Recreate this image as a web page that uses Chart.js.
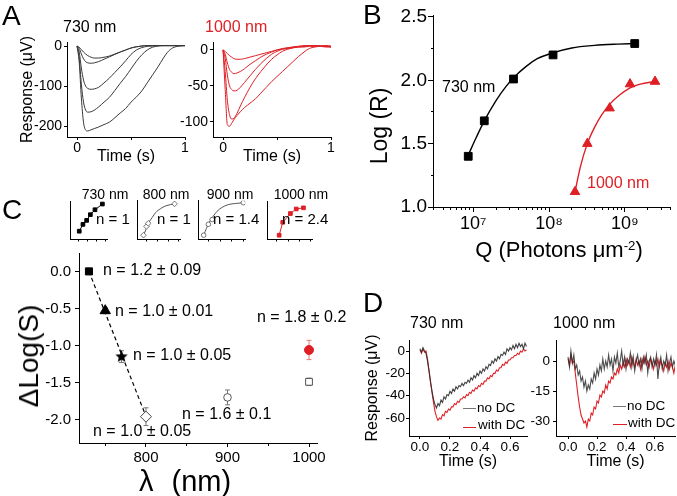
<!DOCTYPE html>
<html><head><meta charset="utf-8">
<script src="https://cdn.jsdelivr.net/npm/chart.js@4"></script>
<style>
html,body{margin:0;padding:0;width:677px;height:496px;overflow:hidden;background:#fff;font-family:'Liberation Sans',Arial,Helvetica,sans-serif;position:relative;}
canvas{position:absolute;}
.t{position:absolute;white-space:nowrap;line-height:1;color:#000;}
.ln{position:absolute;height:0;border-top:1.2px solid;}
</style></head><body>
<script>
// ================= DATA =================
// Panel A: ERG responses (µV) vs time (s)
const timeA = [0,0.02,0.04,0.06,0.08,0.1,0.13,0.16,0.2,0.25,0.3,0.35,0.4,0.45,0.5,0.55,0.6,0.65,0.7,0.75,0.8,0.85,0.9,0.95,1.0];
const a730_1 = [0,-3,-9,-15,-20,-24,-28,-30,-30,-28,-25,-20,-15,-10,-5,-2,0,1,1,1,1,1,1,1,1];
const a730_2 = [0,-6,-20,-32,-39,-42,-43,-42,-39,-33,-27,-21,-15,-10,-5,-2,0,1,1,1,1,1,1,1,1];
const a730_3 = [0,-15,-55,-85,-100,-106,-108,-107,-103,-92,-80,-66,-52,-37,-21,-10,-4,-1,0,1,1,1,1,1,1];
const a730_4 = [0,-30,-95,-140,-160,-165,-164,-160,-152,-140,-128,-111,-93,-76,-57,-38,-22,-10,-3,0,1,1,1,1,1];
const a730_5 = [0,-40,-130,-190,-210,-212,-209,-206,-202,-196,-190,-179,-167,-156,-140,-127,-112,-92,-72,-52,-30,-12,-3,0,1];
const a1000_1 = [0,-2,-5,-8,-10,-12,-13,-13,-12,-10,-8,-6,-4,-2,0,1,2,3,4,4,5,5,5,4,4];
const a1000_2 = [0,-6,-18,-27,-31,-33,-32,-30,-26,-20,-15,-10,-6,-3,0,2,3,4,5,5,6,5,5,6,5];
const a1000_3 = [0,-12,-35,-50,-55,-57,-56,-52,-45,-36,-27,-19,-12,-6,-2,1,3,4,5,6,6,6,5,6,5];
const a1000_4 = [0,-30,-70,-90,-96,-95,-88,-78,-66,-52,-40,-30,-21,-13,-7,-2,1,3,4,5,6,6,6,5,5];
const a1000_5 = [0,-55,-104,-106,-102,-97,-91,-86,-80,-74,-68,-60,-52,-44,-37,-30,-23,-16,-9,-3,2,4,5,5,4];
const ticksA_x = [0,1], labelsA_x = ['0','1'];
const ticksAL_y = [0,-100,-200], labelsAL_y = ['0','-100','-200'];
const ticksAR_y = [0,-50,-100], labelsAR_y = ['0','-50','-100'];

// Panel B: Log(R) vs Q (photons/µm²)
const qB730 = [8.6e6,1.4e7,3.4e7,1.13e8,1.35e9];
const logR730 = [1.40,1.68,2.01,2.20,2.29];
const qB1000 = [2.2e8,3.2e8,6.3e8,1.17e9,2.5e9];
const logR1000 = [1.12,1.50,1.78,1.97,1.99];
const fitQ730 = [8.6e6,1.1e7,1.4e7,2e7,2.7e7,3.4e7,5e7,7e7,1.1e8,2e8,4e8,8e8,1.35e9];
const fitR730 = [1.41,1.55,1.68,1.84,1.95,2.02,2.11,2.17,2.215,2.255,2.275,2.285,2.29];
const fitQ1000 = [2.2e8,2.6e8,3.2e8,4e8,5e8,6.3e8,8e8,1.17e9,1.6e9,2.5e9];
const fitR1000 = [1.12,1.32,1.50,1.63,1.73,1.81,1.87,1.94,1.97,1.99];
const ticksB_x = [1e7,1e8,1e9], labelsB_x = ['10⁷','10⁸','10⁹'];
const minorB_x = [3e6,4e6,5e6,6e6,7e6,8e6,9e6,2e7,3e7,4e7,5e7,6e7,7e7,8e7,9e7,2e8,3e8,4e8,5e8,6e8,7e8,8e8,9e8,2e9,3e9,4e9];
const ticksB_y = [1.0,1.5,2.0,2.5], labelsB_y = ['1.0','1.5','2.0','2.5'];

// Panel C: ΔLog(S) vs wavelength
const lambdaC = [730,750,770,800,900,1000,1000];
const dLogS = [0.0,-0.53,-1.15,-1.96,-1.70,-1.49,-1.06];
const errC = [0.02,0.04,0.08,0.12,0.10,0.05,0.13];
const fitLamC = [730,798];
const fitDLogS = [0.0,-1.90];
const ticksC_x = [800,900,1000], labelsC_x = ['800','900','1000'];
const ticksC_y = [0,-0.5,-1,-1.5,-2], labelsC_y = ['0.0','-0.5','-1.0','-1.5','-2.0'];
const nLabelsC = ['n = 1.2 ± 0.09','n = 1.0 ± 0.01','n = 1.0 ± 0.05','n = 1.0 ± 0.05','n = 1.6 ± 0.1','n = 1.8 ± 0.2'];
// Panel C insets (normalised units)
const in730X = [2.5,3.5,4.5,5.5,6.75,8.75], in730Y = [2.05,3.85,4.9,6.4,7.7,9.2];
const in800X = [1.5,2.2,2.6,8.7], in800Y = [1.0,3.3,4.1,9.2];
const in800FitX = [1.5,2.2,2.8,3.5,4.3,5.4,6.7,8.7], in800FitY = [1.0,2.8,4.4,5.6,6.9,7.9,8.7,9.2];
const in900X = [1.2,2.2,3.0,9.6], in900Y = [1.0,3.85,5.1,9.5];
const in900FitX = [1.2,1.8,2.4,3.2,4.0,5.0,6.4,8.0,9.6], in900FitY = [1.0,2.8,4.4,5.9,7.2,8.2,9.0,9.3,9.5];
const in1000X = [2.7,3.5,5.2,6.5,8.1], in1000Y = [1.0,4.4,6.7,7.9,8.2];
const insetN = ['n = 1','n = 1','n = 1.4','n = 2.4'];

// Panel D: responses with / without DC
const timeDL = [0.00,0.01,0.02,0.03,0.04,0.05,0.06,0.07,0.08,0.09,0.10,0.11,0.12,0.13,0.14,0.15,0.16,0.17,0.18,0.19,0.20,0.21,0.22,0.23,0.24,0.25,0.26,0.27,0.28,0.29,0.30,0.31,0.32,0.33,0.34,0.35,0.36,0.37,0.38,0.39,0.40,0.41,0.42,0.43,0.44,0.45,0.46,0.47,0.48,0.49,0.50,0.51,0.52,0.53,0.54,0.55,0.56,0.57,0.58,0.59,0.60,0.61,0.62,0.63,0.64,0.65,0.66,0.67,0.68,0.69,0.70,0.71];
const d730noDC = [2,-1,3,0,-2,-9,-18,-28,-36,-43,-48,-51,-47,-49,-44,-46,-41,-43,-39,-40,-36,-38,-34,-36,-32,-34,-31,-32,-29,-31,-28,-29,-26,-28,-24,-26,-22,-24,-20,-22,-18,-20,-16,-18,-14,-16,-12,-13,-9,-11,-7,-9,-5,-7,-3,-4,-1,-3,2,0,3,1,5,2,6,3,7,4,6,2,7,4];
const d730withDC = [1,-2,2,-1,0,-7,-17,-27,-37,-46,-54,-59,-62,-60,-61,-57,-58,-54,-55,-52,-53,-50,-50,-47,-48,-45,-46,-43,-43,-41,-42,-39,-40,-37,-38,-35,-36,-33,-34,-31,-32,-29,-30,-27,-27,-24,-25,-22,-23,-20,-20,-17,-18,-15,-15,-12,-13,-10,-11,-8,-8,-6,-6,-4,-4,-2,-3,0,-1,2,0,1];
const timeDR = [0.00,0.01,0.02,0.03,0.04,0.05,0.06,0.07,0.08,0.09,0.10,0.11,0.12,0.13,0.14,0.15,0.16,0.17,0.18,0.19,0.20,0.21,0.22,0.23,0.24,0.25,0.26,0.27,0.28,0.29,0.30,0.31,0.32,0.33,0.34,0.35,0.36,0.37,0.38,0.39,0.40,0.41,0.42,0.43,0.44,0.45,0.46,0.47,0.48,0.49,0.50,0.51,0.52,0.53,0.54,0.55,0.56,0.57,0.58,0.59,0.60,0.61,0.62,0.63,0.64,0.65,0.66,0.67,0.68,0.69,0.70,0.71,0.72,0.73,0.74];
const d1000noDC = [2,-3,5,-1,3,-4,-2,-7,-5,-10,-8,-13,-10,-15,-12,-14,-9,-11,-6,-9,-4,-7,-2,-5,1,-4,0,-3,3,-2,1,-5,2,-1,4,-3,0,5,-2,2,-4,1,-1,4,-3,2,-5,0,3,-2,1,-4,2,-1,3,-6,0,2,-3,1,-2,3,-9,-1,2,-4,0,-2,3,-5,-1,2,-3,0,-2];
const d1000withDC = [1,-2,3,-1,0,-6,-12,-18,-23,-27,-29,-31,-30,-33,-29,-30,-26,-27,-23,-24,-20,-21,-17,-18,-15,-16,-12,-14,-10,-11,-8,-9,-6,-7,-4,-6,-2,-4,-1,-3,1,-2,0,-3,2,-1,-3,1,-2,0,-4,1,-1,2,-2,0,-3,1,-1,-4,0,-2,1,-3,0,-2,-5,-1,-3,0,-4,-1,-3,-6,-2];
const ticksD_x = [0,0.2,0.4,0.6], labelsD_x = ['0.0','0.2','0.4','0.6'];
const ticksDL_y = [0,-20,-40,-60], labelsDL_y = ['0','-20','-40','-60'];
const ticksDR_y = [0,-15,-30], labelsDR_y = ['0','-15','-30'];

// ================= RENDERING =================
const RED = 'rgb(222,32,38)';
Chart.defaults.font.family = "'Liberation Sans', Arial, Helvetica, sans-serif";
Chart.defaults.color = '#000';

function ax(o) {
  const major = o.major || [], minor = o.minor || [], labels = o.labels || [];
  const all = major.concat(minor);
  const tl = o.tl || 4, ml = o.ml || Math.max(1, Math.round(tl / 2));
  const vert = o.side === 'y';
  return {
    type: o.type || 'linear', min: o.min, max: o.max,
    afterBuildTicks: s => { s.ticks = all.map(v => ({value: v})); },
    afterFit: s => { if (vert) s.width = o.fit; else s.height = o.fit; },
    border: {display: true, color: '#000', width: 1},
    grid: {display: true, drawOnChartArea: false, drawTicks: true, tickLength: tl, tickColor: '#000', tickWidth: 1,
      tickBorderDash: c => { const v = c.tick ? c.tick.value : null; if (minor.indexOf(v) < 0) return []; return vert ? [0, tl - ml, ml, 40] : [ml, 40]; }},
    ticks: {display: labels.length > 0, color: '#000', font: {size: o.size || 14}, padding: (o.pad === undefined ? 2 : o.pad),
      autoSkip: false, maxRotation: 0, minRotation: 0,
      callback: v => { const k = major.indexOf(v); return k >= 0 ? labels[k] : ''; }},
    title: o.title ? {display: true, text: o.title, color: '#000', font: {size: o.tsize},
      padding: vert ? {top: o.tpad, bottom: 0} : {top: 0, bottom: o.tpad}} : {display: false}
  };
}

function mkChart(box, area, datasets, xo, yo, extra) {
  const c = document.createElement('canvas');
  c.width = box.w; c.height = box.h;
  c.style.left = box.x + 'px'; c.style.top = box.y + 'px';
  c.style.width = box.w + 'px'; c.style.height = box.h + 'px';
  document.body.appendChild(c);
  xo.side = 'x'; xo.fit = box.y + box.h - area.b;
  yo.side = 'y'; yo.fit = area.l - box.x;
  extra = extra || {};
  return new Chart(c, {
    type: 'scatter',
    data: {datasets},
    options: {
      responsive: false, animation: false, events: [], devicePixelRatio: 1,
      layout: {padding: {top: area.t - box.y, right: box.x + box.w - area.r, left: 0, bottom: 0}},
      plugins: Object.assign({legend: {display: false}, tooltip: {enabled: false}}, extra.plugins || {}),
      scales: {x: ax(xo), y: ax(yo)}
    },
    plugins: extra.inline || []
  });
}

function line(xs, ys, color, w, opts) {
  return Object.assign({data: xs.map((x, i) => ({x, y: ys[i]})), showLine: true, borderColor: color,
    borderWidth: w, pointRadius: 0, fill: false, tension: 0}, opts || {});
}
function pts(xs, ys, opts) {
  return Object.assign({data: xs.map((x, i) => ({x, y: ys[i]})), showLine: false}, opts || {});
}
function smooth(xs, ys, color, w) { return line(xs, ys, color, w, {cubicInterpolationMode: 'monotone'}); }

function text(html, x, cy, size, opt) {
  opt = opt || {};
  const d = document.createElement('div');
  d.className = 't'; d.innerHTML = html;
  d.style.fontSize = size + 'px';
  d.style.left = x + 'px'; d.style.top = cy + 'px';
  if (opt.color) d.style.color = opt.color;
  if (opt.ws) d.style.wordSpacing = opt.ws + 'px';
  let tr = opt.center ? 'translate(-50%,-50%)' : 'translateY(-50%)';
  if (opt.rot) tr += ' rotate(-90deg)';
  d.style.transform = tr;
  document.body.appendChild(d);
}
function seg(x1, x2, y, color) {
  const d = document.createElement('div'); d.className = 'ln';
  d.style.left = x1 + 'px'; d.style.width = (x2 - x1) + 'px'; d.style.top = y + 'px';
  d.style.borderTopColor = color; document.body.appendChild(d);
}
function starImg(r, color) {
  const c = document.createElement('canvas'); const s = Math.ceil(r * 2) + 2; c.width = c.height = s;
  const g = c.getContext('2d'); g.fillStyle = color; g.beginPath();
  for (let i = 0; i < 10; i++) { const rr = i % 2 ? r * 0.45 : r; const a = -Math.PI / 2 + i * Math.PI / 5; g.lineTo(s / 2 + rr * Math.cos(a), s / 2 + rr * Math.sin(a)); }
  g.closePath(); g.fill(); return c;
}
const errorBarPlugin = {
  id: 'errorBars',
  beforeDatasetsDraw(chart, args, opts) {
    if (!opts || !opts.bars) return;
    const ctx = chart.ctx, xs = chart.scales.x, ys = chart.scales.y;
    ctx.save(); ctx.lineWidth = 1;
    opts.bars.forEach(b => {
      const px = xs.getPixelForValue(b.x), p1 = ys.getPixelForValue(b.y + b.e), p2 = ys.getPixelForValue(b.y - b.e);
      ctx.strokeStyle = b.color; ctx.beginPath();
      ctx.moveTo(px, p1); ctx.lineTo(px, p2);
      ctx.moveTo(px - 2.5, p1); ctx.lineTo(px + 2.5, p1);
      ctx.moveTo(px - 2.5, p2); ctx.lineTo(px + 2.5, p2);
      ctx.stroke();
    });
    ctx.restore();
  }
};

// ---- Panel A ----
const GA = '#383838';
mkChart({x: 0, y: 20, w: 195, h: 150}, {l: 67, t: 42, r: 185, b: 137},
  [a730_1, a730_2, a730_3, a730_4, a730_5].map(s => smooth(timeA, s, GA, 1)),
  {min: -0.093, max: 1.0, major: ticksA_x, labels: labelsA_x, minor: [0.5], size: 14, tl: 3, pad: 0, title: 'Time (s)', tsize: 16, tpad: 3.4},
  {min: -227, max: 10, major: ticksAL_y, labels: labelsAL_y, size: 14, tl: 3, pad: 2, title: 'Response (μV)', tsize: 16, tpad: 18.4});
mkChart({x: 170, y: 20, w: 170, h: 150}, {l: 213, t: 42, r: 331, b: 137},
  [a1000_1, a1000_2, a1000_3, a1000_4, a1000_5].map(s => smooth(timeA, s, RED, 1)),
  {min: -0.093, max: 1.0, major: ticksA_x, labels: labelsA_x, minor: [0.5], size: 14, tl: 3, pad: 0, title: 'Time (s)', tsize: 16, tpad: 3.4},
  {min: -121, max: 11, major: ticksAR_y, labels: labelsAR_y, size: 14, tl: 3, pad: 2});

// ---- Panel B ----
mkChart({x: 340, y: 0, w: 337, h: 270}, {l: 433, t: 15, r: 671, b: 207},
  [
    pts(qB730, logR730, {pointStyle: 'rect', pointRadius: 5.5, pointBackgroundColor: '#000', pointBorderColor: '#000'}),
    pts(qB1000, logR1000, {pointStyle: 'triangle', pointRadius: 5.5, pointBackgroundColor: RED, pointBorderColor: RED}),
    smooth(fitQ730, fitR730, '#000', 1.4),
    smooth(fitQ1000, fitR1000, RED, 1.4)
  ],
  {type: 'logarithmic', min: 2.95e6, max: 4e9, major: ticksB_x, labels: labelsB_x, minor: minorB_x, size: 18, tl: 5, ml: 2, pad: 1},
  {min: 1.0, max: 2.515, major: ticksB_y, labels: labelsB_y, minor: [1.25, 1.75, 2.25], size: 19, tl: 5, ml: 2, pad: 1});

// ---- Panel C main ----
const bars = lambdaC.map((l, i) => ({x: l, y: dLogS[i], e: errC[i], color: i === 6 ? 'rgb(235,120,120)' : '#777'}));
mkChart({x: 0, y: 240, w: 340, h: 262}, {l: 79, t: 252, r: 317, b: 443},
  [
    pts(lambdaC, dLogS, {
      pointStyle: ['rect', 'triangle', starImg(6.5, '#000'), 'rectRot', 'circle', 'rect', 'circle'],
      pointRadius: [5, 6, 6.5, 5.5, 3.8, 4.8, 4.5],
      pointBorderWidth: 1,
      pointBackgroundColor: ['#000', '#000', '#000', '#fff', '#fff', '#fff', RED],
      pointBorderColor: ['#000', '#000', '#000', '#444', '#555', '#555', RED]
    }),
    line(fitLamC, fitDLogS, '#000', 1.2, {borderDash: [4, 3]})
  ],
  {min: 717.8, max: 1009.8, major: ticksC_x, labels: labelsC_x, minor: [750, 850, 950], size: 15, tl: 4, ml: 2, pad: 2},
  {min: -2.315, max: 0.248, major: ticksC_y, labels: labelsC_y, size: 15, tl: 4, pad: 4},
  {plugins: {errorBars: {bars}}, inline: [errorBarPlugin]});

// ---- Panel C insets ----
const inX = {min: 0, max: 10, major: [1, 3.5, 6, 8.5], minor: [2.2, 4.7, 7.2, 9.7], tl: 3, ml: 1.5};
function inset(l, r, datasets, yt) {
  mkChart({x: l - 6, y: 196, w: r - l + 8, h: 48}, {l: l, t: 200, r: r, b: 239}, datasets,
    Object.assign({}, inX), {min: 0, max: 10, major: yt, tl: 3});
}
inset(70, 110, [
  pts(in730X, in730Y, {pointStyle: 'rect', pointRadius: 2.6, pointBackgroundColor: '#000', pointBorderColor: '#000'}),
  line(in730X, in730Y, '#000', 1)
], [1.0, 5.1, 9.0]);
inset(137, 183, [
  pts(in800X, in800Y, {pointStyle: 'rectRot', pointRadius: 2.8, pointBackgroundColor: '#fff', pointBorderColor: '#555', pointBorderWidth: 0.8}),
  smooth(in800FitX, in800FitY, '#444', 0.9)
], [1.0, 4.6, 8.5]);
inset(198, 248, [
  pts(in900X, in900Y, {pointStyle: 'circle', pointRadius: 2.3, pointBackgroundColor: '#fff', pointBorderColor: '#555', pointBorderWidth: 0.8}),
  smooth(in900FitX, in900FitY, '#444', 0.9)
], [2.3, 5.6, 9.2]);
inset(267, 315, [
  pts(in1000X, in1000Y, {pointStyle: 'rect', pointRadius: 2.6, pointBackgroundColor: RED, pointBorderColor: RED}),
  line(in1000X, in1000Y, RED, 1)
], [3.6, 7.4]);

// ---- Panel D ----
mkChart({x: 340, y: 310, w: 195, h: 190}, {l: 409, t: 340, r: 527, b: 436},
  [line(timeDL, d730noDC, 'rgba(45,45,45,0.9)', 1.1), line(timeDL, d730withDC, RED, 1.1)],
  {min: -0.0733, max: 0.7133, major: ticksD_x, labels: labelsD_x, size: 13.5, tl: 3, pad: 0, title: 'Time (s)', tsize: 16, tpad: 28.4},
  {min: -76.1, max: 9.85, major: ticksDL_y, labels: labelsDL_y, size: 13.5, tl: 3, pad: 1, title: 'Response (μV)', tsize: 16, tpad: 23.4});
mkChart({x: 520, y: 310, w: 157, h: 190}, {l: 556, t: 340, r: 675, b: 436},
  [line(timeDR, d1000noDC, 'rgba(45,45,45,0.85)', 1.1), line(timeDR, d1000withDC, RED, 1.1)],
  {min: -0.083, max: 0.738, major: ticksD_x, labels: labelsD_x, size: 13.5, tl: 3, pad: 0, title: 'Time (s)', tsize: 16, tpad: 28.4},
  {min: -37.5, max: 10.5, major: ticksDR_y, labels: labelsDR_y, size: 13.5, tl: 3, pad: 3});

// ---- Text ----
text('A', 2, 16, 28);
text('730 nm', 63, 27, 16);
text('1000 nm', 205, 27, 16, {color: RED});
text('B', 363, 15, 28);
text('730 nm', 442, 87, 16);
text('1000 nm', 587, 183, 16, {color: RED});
text('Log (R)', 379, 126, 23, {center: true, rot: true});
text('Q (Photons μm<sup style="font-size:60%;vertical-align:0.6em">-2</sup>)', 559, 250, 22, {center: true});
text('C', 2, 210, 28);
text('730 nm', 105, 194, 14, {center: true});
text('800 nm', 166, 194, 14, {center: true});
text('900 nm', 230, 194, 14, {center: true});
text('1000 nm', 301, 194, 14, {center: true});
text(insetN[0], 96, 218, 15);
text(insetN[1], 157, 218, 15);
text(insetN[2], 213, 218, 15);
text(insetN[3], 282, 218, 15);
text(nLabelsC[0], 103, 270, 16);
text(nLabelsC[1], 115, 311, 16);
text(nLabelsC[2], 133, 355, 16);
text(nLabelsC[3], 93, 431, 16);
text(nLabelsC[4], 182, 414, 16);
text(nLabelsC[5], 257, 317, 16);
text('ΔLog(S)', 29, 356, 28, {center: true, rot: true});
text('λ (nm)', 185, 481, 29, {center: true, ws: 10});
text('D', 363, 303, 28);
text('730 nm', 410, 323, 16);
text('1000 nm', 553, 323, 16);
seg(463, 476, 408, '#777'); text('no DC', 477, 407.5, 13.5);
seg(463, 476, 427, RED); text('with DC', 478, 425, 13.5);
seg(613, 626, 406, '#777'); text('no DC', 627, 406, 13.5);
seg(613, 627, 424, RED); text('with DC', 628, 423, 13.5);
</script>
</body></html>
